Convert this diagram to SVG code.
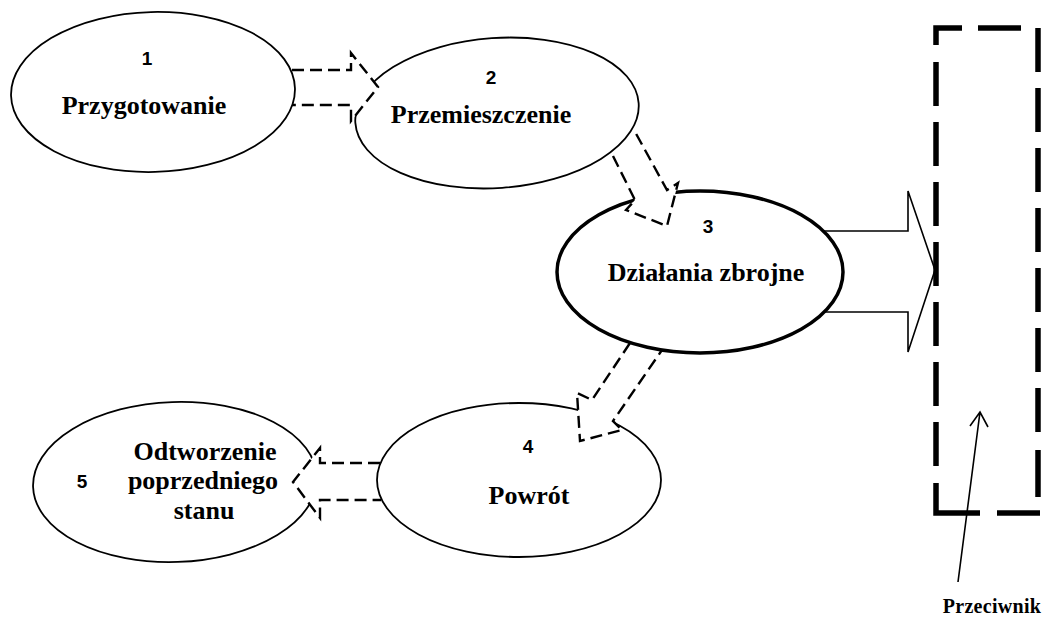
<svg xmlns="http://www.w3.org/2000/svg" width="1042" height="619" viewBox="0 0 1042 619">
  <style>
    .node { fill: #ffffff; stroke: #000000; stroke-width: 1.8; }
    .main { stroke-width: 3.5; }
    .label { font-family: "Liberation Serif", "Times New Roman", serif; font-weight: bold; font-size: 26px; fill: #000; text-anchor: middle; }
    .small { font-size: 20px; letter-spacing: 0.3px; }
    .num { font-family: "Liberation Sans", Arial, sans-serif; font-weight: bold; font-size: 19px; fill: #000; text-anchor: middle; }
    .flow { fill: none; stroke: #000; stroke-width: 2.4; stroke-dasharray: 12 6; stroke-linejoin: miter; }
    .mask { fill: #ffffff; stroke: none; }
    .solid { fill: none; stroke: #000; stroke-width: 1.6; }
    .frame { fill: none; stroke: #000; stroke-width: 5.5; }
  </style>

  <!-- phases -->
  <g id="node-1">
    <ellipse class="node" cx="153" cy="92" rx="142" ry="80" transform="rotate(-1.5 153 92)"/>
    <text class="num" x="147" y="65">1</text>
    <text class="label" x="144" y="114">Przygotowanie</text>
  </g>
  <g id="node-2">
    <ellipse class="node" cx="497" cy="113" rx="142" ry="75" transform="rotate(-4 497 113)"/>
    <text class="num" x="491" y="84">2</text>
    <text class="label" x="481" y="123">Przemieszczenie</text>
  </g>
  <g id="node-3">
    <ellipse class="node main" cx="700" cy="272" rx="143" ry="81"/>
    <text class="num" x="708" y="233">3</text>
    <text class="label" x="706" y="281">Działania zbrojne</text>
  </g>
  <g id="node-4">
    <ellipse class="node" cx="519" cy="480" rx="142" ry="77"/>
    <text class="num" x="528" y="453">4</text>
    <text class="label" x="529" y="504">Powrót</text>
  </g>
  <g id="node-5">
    <ellipse class="node" cx="175" cy="482" rx="142" ry="80" transform="rotate(-2 175 482)"/>
    <text class="num" x="82" y="488">5</text>
    <text class="label" x="205" y="460">Odtworzenie</text>
    <text class="label" x="203" y="489">poprzedniego</text>
    <text class="label" x="204" y="519">stanu</text>
  </g>

  <!-- opponent zone -->
  <g id="node-przeciwnik">
    <g class="frame">
      <path d="M962,28 H936 V45"/>
      <line x1="978" y1="28" x2="1021" y2="28"/>
      <line x1="936" y1="62" x2="936" y2="106"/>
      <line x1="936" y1="122" x2="936" y2="166"/>
      <line x1="936" y1="182" x2="936" y2="226"/>
      <line x1="936" y1="242" x2="936" y2="286"/>
      <line x1="936" y1="302" x2="936" y2="346"/>
      <line x1="936" y1="362" x2="936" y2="406"/>
      <line x1="936" y1="422" x2="936" y2="466"/>
      <path d="M936,483 V513 H980"/>
      <line x1="997" y1="513" x2="1040" y2="513"/>
      <line x1="1038" y1="28" x2="1038" y2="72"/>
      <line x1="1038" y1="88" x2="1038" y2="132"/>
      <line x1="1038" y1="148" x2="1038" y2="192"/>
      <line x1="1038" y1="208" x2="1038" y2="252"/>
      <line x1="1038" y1="268" x2="1038" y2="312"/>
      <line x1="1038" y1="328" x2="1038" y2="372"/>
      <line x1="1038" y1="388" x2="1038" y2="432"/>
      <line x1="1038" y1="450" x2="1038" y2="497"/>
    </g>
    <text class="label small" x="992" y="613">Przeciwnik</text>
  </g>

  <!-- connectors -->
  <g id="connectors">
    <!-- 1 to 2 -->
    <polygon class="mask" points="340,70 351,70 351,53 378,87 351,121 351,105 340,105"/>
    <path class="flow" d="M292,70 H351 V53 L378,87 L351,121 V105 H292"/>
    <!-- 2 to 3 -->
    <polygon class="mask" points="624,178 635,200 626,210 667,226 678,183 667,190 650,160"/>
    <path class="flow" d="M613,156 L635,200 L626,210 L667,226 L678,183 L667,190 L634,130"/>
    <!-- 3 to 4 -->
    <polygon class="mask" points="611,372 592,400 577,393 580,441 622,430 613,421 637,386"/>
    <path class="flow" d="M630,343 L592,400 L577,393 L580,441 L622,430 L613,421 L662,350"/>
    <!-- 4 to 5 -->
    <polygon class="mask" points="335,463 320,463 320,448 293,482 320,518 320,500 335,500"/>
    <path class="flow" d="M380,463 H320 V448 L293,482 L320,518 V500 H381"/>
    <!-- 3 to opponent -->
    <path class="solid" d="M823,231 H908 V191 L935,270 L908,352 V312 H823"/>
    <!-- opponent pointer -->
    <path class="solid" d="M958,582 L980,412 M970,426 L980,412 L988,427" stroke-width="2"/>
  </g>
</svg>
